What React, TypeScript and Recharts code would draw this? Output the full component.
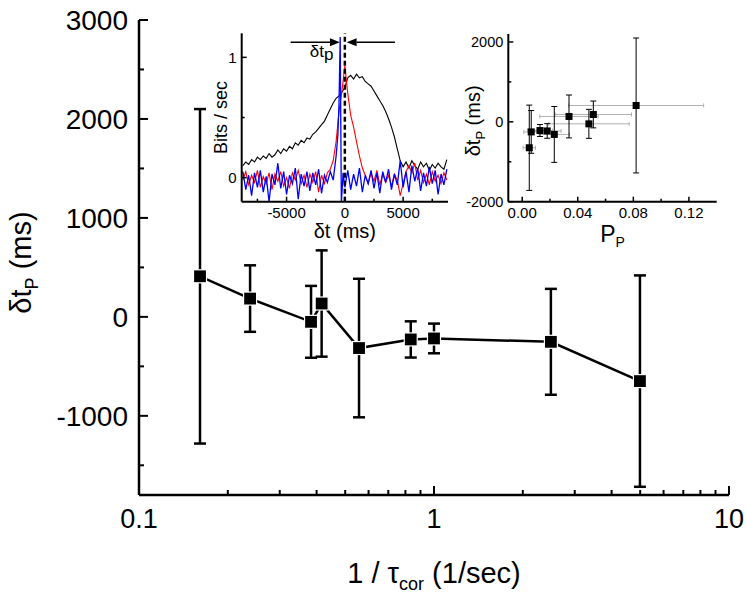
import React from 'react';
import {
  ComposedChart,
  LineChart,
  ScatterChart,
  Scatter,
  Line,
  XAxis,
  YAxis,
  ErrorBar,
  ReferenceLine,
  ReferenceDot,
  Label,
} from 'recharts';

const FONT = '"Liberation Sans", Arial, Helvetica, sans-serif';

// ---------------- main panel data ----------------
const invTau = [0.161, 0.238, 0.383, 0.416, 0.557, 0.834, 1.0, 2.49, 4.99];
const dtP = [410, 185, -50, 135, -315, -228, -218, -252, -649];
const dtPErr = [1690, 336, 363, 537, 700, 183, 150, 535, 1068];

const mainXTicks = [0.1, 0.2, 0.3, 0.4, 0.5, 0.6, 0.7, 0.8, 0.9, 1, 2, 3, 4, 5, 6, 7, 8, 9, 10];
const mainXMajor = [0.1, 1, 10];
const mainYTicks = [-1500, -1000, -500, 0, 500, 1000, 1500, 2000, 2500, 3000];
const mainYMajor = [-1000, 0, 1000, 2000, 3000];

// ---------------- right inset data ----------------
const pP = [0.082, 0.0512, 0.048, 0.0337, 0.0231, 0.018, 0.0128, 0.0065, 0.0051];
const pPErr = [0.0486, 0.0275, 0.029, 0.021, 0.011, 0.01, 0.009, 0.0054, 0.0045];
const insXTicks = [0, 0.02, 0.04, 0.06, 0.08, 0.1, 0.12];
const insXMajor = [0, 0.04, 0.08, 0.12];
const insYTicks = [-2000, -1000, 0, 1000, 2000];
const insYMajor = [-2000, 0, 2000];

// ---------------- left inset data ----------------
const tIns = [-8750, -8500, -8250, -8000, -7750, -7500, -7250, -7000, -6750, -6500, -6250, -6000, -5750, -5500, -5250, -5000, -4750, -4500, -4250, -4000, -3750, -3500, -3250, -3000, -2750, -2500, -2250, -2000, -1750, -1500, -1250, -1000, -750, -500, -250, 0, 250, 500, 750, 1000, 1250, 1500, 1750, 2000, 2250, 2500, 2750, 3000, 3250, 3500, 3750, 4000, 4250, 4500, 4750, 5000, 5250, 5500, 5750, 6000, 6250, 6500, 6750, 7000, 7250, 7500, 7750, 8000, 8250, 8500, 8750];
const blackV = [0.10, 0.13, 0.11, 0.15, 0.13, 0.17, 0.15, 0.18, 0.16, 0.20, 0.17, 0.19, 0.23, 0.20, 0.24, 0.22, 0.26, 0.24, 0.29, 0.27, 0.31, 0.29, 0.33, 0.32, 0.36, 0.38, 0.41, 0.44, 0.47, 0.52, 0.57, 0.62, 0.66, 0.68, 0.71, 0.75, 0.83, 0.85, 0.82, 0.86, 0.83, 0.84, 0.80, 0.78, 0.76, 0.72, 0.68, 0.64, 0.60, 0.55, 0.49, 0.42, 0.34, 0.24, 0.14, 0.09, 0.13, 0.08, 0.14, 0.10, 0.07, 0.13, 0.09, 0.12, 0.06, 0.11, 0.08, 0.12, 0.09, 0.07, 0.15];
const redV = [-0.02, 0.05, -0.06, 0.02, -0.04, 0.06, -0.08, 0.01, -0.05, 0.04, -0.10, 0.03, -0.03, 0.05, -0.07, 0.00, -0.09, 0.04, -0.02, 0.06, -0.05, 0.02, -0.08, 0.03, -0.04, 0.05, -0.12, 0.02, -0.05, 0.04, 0.07, 0.14, 0.30, 0.55, 0.72, 0.93, 0.70, 0.52, 0.42, 0.30, 0.18, 0.08, 0.02, -0.05, 0.04, -0.03, 0.06, -0.06, 0.03, -0.04, 0.02, -0.07, 0.03, -0.02, -0.15, -0.05, 0.05, 0.10, 0.04, 0.12, -0.02, 0.06, -0.04, 0.03, -0.06, 0.05, -0.03, 0.02, -0.05, 0.04, -0.02];
const blueT = [-8750, -8500, -8250, -8000, -7750, -7500, -7250, -7000, -6750, -6500, -6250, -6000, -5750, -5500, -5250, -5000, -4750, -4500, -4250, -4000, -3750, -3500, -3250, -3000, -2750, -2500, -2250, -2000, -1750, -1500, -1250, -1000, -750, -600, -500, -400, -300, -150, 0, 250, 500, 750, 1000, 1250, 1500, 1750, 2000, 2250, 2500, 2750, 3000, 3250, 3500, 3750, 4000, 4250, 4500, 4750, 5000, 5250, 5500, 5750, 6000, 6250, 6500, 6750, 7000, 7250, 7500, 7750, 8000, 8250, 8500, 8750];
const blueV = [0.05, -0.10, 0.02, -0.15, 0.04, -0.08, 0.06, -0.12, 0.01, -0.20, 0.03, -0.06, 0.12, -0.09, 0.05, -0.14, 0.02, -0.05, 0.08, -0.18, 0.03, -0.07, 0.05, -0.11, 0.04, -0.06, 0.07, -0.13, 0.02, -0.04, 0.05, -0.02, 0.18, 0.35, 0.62, 1.17, -0.21, 0.04, -0.08, 0.06, -0.10, 0.03, -0.07, 0.08, -0.12, 0.02, -0.05, 0.06, -0.09, 0.04, -0.13, 0.05, -0.04, 0.07, -0.10, 0.03, -0.06, 0.14, -0.08, 0.05, -0.12, 0.10, -0.03, 0.08, -0.11, 0.04, -0.07, 0.09, -0.05, 0.06, -0.14, 0.03, -0.06, 0.07];
const ins1XTicks = [-7500, -5000, -2500, 0, 2500, 5000, 7500];
const ins1XMajor = [-5000, 0, 5000];
const ins1YTicks = [0, 0.5, 1];
const ins1YMajor = [0, 1];
// annotation: arrows [from, tip] at height arrowLevel, label position
const arrowLevel = 1.125;
const arrowLeft = [-4650, -420];
const arrowRight = [4300, 150];
const dtpLabelPos = [-2000, 1.0];

const mainData = invTau.map((x, i) => ({ x, y: dtP[i], err: dtPErr[i] }));
const insData = pP.map((x, i) => ({ x, y: dtP[i], err: dtPErr[i], xerr: pPErr[i] }));
const blackData = tIns.map((t, i) => ({ t, v: blackV[i] }));
const redData = tIns.map((t, i) => ({ t, v: redV[i] }));
const blueData = blueT.map((t, i) => ({ t, v: blueV[i] }));

type TickOpts = {
  side: 'bottom' | 'top' | 'left' | 'right';
  majors: number[];
  major: number;
  minor: number;
  sw: number;
  label?: boolean;
  fontSize?: number;
  offset?: number;
  fmt?: (v: number) => string;
};

function makeTick(o: TickOpts) {
  return (props: any) => {
    const { x, y, payload } = props;
    const v = payload.value;
    const isMajor = o.majors.some((m) => Math.abs(m - v) < 1e-9);
    const len = isMajor ? o.major : o.minor;
    let x2 = x;
    let y2 = y;
    if (o.side === 'bottom') y2 = y - len;
    if (o.side === 'top') y2 = y + len;
    if (o.side === 'left') x2 = x + len;
    if (o.side === 'right') x2 = x - len;
    let txt: any = null;
    if (o.label && isMajor) {
      const s = o.fmt ? o.fmt(v) : String(v);
      if (o.side === 'bottom') {
        txt = (
          <text x={x} y={y + (o.offset || 0)} textAnchor="middle" fontSize={o.fontSize} fontFamily={FONT} fill="#000">
            {s}
          </text>
        );
      } else if (o.side === 'left') {
        txt = (
          <text x={x - (o.offset || 0)} y={y} dy="0.35em" textAnchor="end" fontSize={o.fontSize} fontFamily={FONT} fill="#000">
            {s}
          </text>
        );
      }
    }
    return (
      <g>
        <line x1={x} y1={y} x2={x2} y2={y2} stroke="#000" strokeWidth={o.sw} />
        {txt}
      </g>
    );
  };
}

const mainAxisLine = { stroke: '#000', strokeWidth: 2.5 };
const insAxisLine = { stroke: '#000', strokeWidth: 2 };

const MainXTitle = (p: any) => {
  const vb = p.viewBox;
  return (
    <text x={vb.x + vb.width / 2} y={vb.y + 88} textAnchor="middle" fontSize={29} fontFamily={FONT} fill="#000">
      1 / τ<tspan dy={7} fontSize={18}>cor</tspan>
      <tspan dy={-7}> (1/sec)</tspan>
    </text>
  );
};

const MainYTitle = (p: any) => {
  const vb = p.viewBox;
  const cx = vb.x + 31;
  const cy = vb.y + vb.height / 2 + 5;
  return (
    <text x={cx} y={cy} transform={`rotate(-90, ${cx}, ${cy})`} textAnchor="middle" fontSize={29} fontFamily={FONT} fill="#000">
      δt<tspan dy={7} fontSize={18}>P</tspan>
      <tspan dy={-7}> (ms)</tspan>
    </text>
  );
};

const Ins1XTitle = (p: any) => {
  const vb = p.viewBox;
  return (
    <text x={vb.x + vb.width / 2} y={vb.y + 36} textAnchor="middle" fontSize={20} fontFamily={FONT} fill="#000">
      δt (ms)
    </text>
  );
};

const Ins1YTitle = (p: any) => {
  const vb = p.viewBox;
  const cx = vb.x + 47;
  const cy = vb.y + vb.height / 2;
  return (
    <text x={cx} y={cy} transform={`rotate(-90, ${cx}, ${cy})`} textAnchor="middle" fontSize={18} fontFamily={FONT} fill="#000">
      Bits / sec
    </text>
  );
};

const Ins2XTitle = (p: any) => {
  const vb = p.viewBox;
  return (
    <text x={vb.x + vb.width / 2} y={vb.y + 40} textAnchor="middle" fontSize={23} fontFamily={FONT} fill="#000">
      P<tspan dy={5} fontSize={14}>P</tspan>
    </text>
  );
};

const Ins2YTitle = (p: any) => {
  const vb = p.viewBox;
  const cx = vb.x + 25;
  const cy = vb.y + vb.height / 2 + 3;
  return (
    <text x={cx} y={cy} transform={`rotate(-90, ${cx}, ${cy})`} textAnchor="middle" fontSize={20} fontFamily={FONT} fill="#000">
      δt<tspan dy={5} fontSize={13}>P</tspan>
      <tspan dy={-5}> (ms)</tspan>
    </text>
  );
};

const ArrowShape = (p: any) => {
  const { x1, y1, x2, y2 } = p;
  const dx = x2 - x1;
  const dy = y2 - y1;
  const L = Math.sqrt(dx * dx + dy * dy) || 1;
  const ux = dx / L;
  const uy = dy / L;
  const hl = 10;
  const hw = 4;
  const bx = x2 - ux * hl;
  const by = y2 - uy * hl;
  const pts = `${x2},${y2} ${bx - uy * hw},${by + ux * hw} ${bx + uy * hw},${by - ux * hw}`;
  return (
    <g>
      <line x1={x1} y1={y1} x2={bx} y2={by} stroke="#000" strokeWidth={1.6} />
      <polygon points={pts} fill="#000" />
    </g>
  );
};

const DtpLabel = (p: any) => (
  <text x={p.cx} y={p.cy} textAnchor="middle" fontSize={17} fontFamily={FONT} fill="#000">
    δt<tspan dy={3}>p</tspan>
  </text>
);

const MainMarker = (p: any) => (
  <rect x={p.cx - 6.5} y={p.cy - 6.5} width={13} height={13} fill="#000" stroke="#fff" strokeWidth={1.2} />
);
const InsMarker = (p: any) => (
  <rect x={p.cx - 3.5} y={p.cy - 3.5} width={7} height={7} fill="#000" />
);

export default function App() {
  return (
    <div style={{ position: 'absolute', left: 0, top: 0, width: 747, height: 598, background: '#fff', fontFamily: FONT }}>
      <ComposedChart width={747} height={598} data={mainData} margin={{ top: 20, right: 18, bottom: 0, left: 0 }}>
        <XAxis
          xAxisId="b"
          dataKey="x"
          type="number"
          scale="log"
          domain={[0.1, 10]}
          allowDataOverflow
          ticks={mainXTicks}
          interval={0}
          height={103}
          tickSize={0}
          tickMargin={0}
          tickLine={false}
          axisLine={mainAxisLine}
          tick={makeTick({ side: 'bottom', majors: mainXMajor, major: 9, minor: 5, sw: 2, label: true, fontSize: 27, offset: 33 })}
        >
          <Label content={MainXTitle} />
        </XAxis>
        <XAxis
          xAxisId="t"
          orientation="top"
          type="number"
          scale="log"
          domain={[0.1, 10]}
          allowDataOverflow
          ticks={mainXTicks}
          interval={0}
          height={0}
          tickSize={0}
          tickMargin={0}
          tickLine={false}
          axisLine={mainAxisLine}
          tick={makeTick({ side: 'top', majors: mainXMajor, major: 9, minor: 5, sw: 2 })}
        />
        <YAxis
          yAxisId="l"
          dataKey="y"
          type="number"
          domain={[-1800, 3000]}
          allowDataOverflow
          ticks={mainYTicks}
          interval={0}
          width={139}
          tickSize={0}
          tickMargin={0}
          tickLine={false}
          axisLine={mainAxisLine}
          tick={makeTick({ side: 'left', majors: mainYMajor, major: 9, minor: 5, sw: 2, label: true, fontSize: 28, offset: 11 })}
        >
          <Label content={MainYTitle} />
        </YAxis>
        <YAxis
          yAxisId="r"
          orientation="right"
          type="number"
          domain={[-1800, 3000]}
          allowDataOverflow
          ticks={mainYTicks}
          interval={0}
          width={0}
          tickSize={0}
          tickMargin={0}
          tickLine={false}
          axisLine={mainAxisLine}
          tick={makeTick({ side: 'right', majors: mainYMajor, major: 9, minor: 5, sw: 2 })}
        />
        <Scatter
          xAxisId="b"
          yAxisId="l"
          data={mainData}
          dataKey="y"
          line={{ stroke: '#000', strokeWidth: 2.5 }}
          shape={MainMarker}
          isAnimationActive={false}
        >
          <ErrorBar dataKey="err" direction="y" width={6} stroke="#000" strokeWidth={2.5} />
        </Scatter>
      </ComposedChart>

      {/* left inset */}
      <div style={{ position: 'absolute', left: 180, top: 25, width: 280, height: 225 }}>
        <LineChart width={280} height={225} margin={{ top: 8.3, right: 12, bottom: 0, left: 0 }}>
          <XAxis
            xAxisId="b"
            dataKey="t"
            type="number"
            domain={[-8850, 8850]}
            allowDataOverflow
            ticks={ins1XTicks}
            interval={0}
            height={48.3}
            tickSize={0}
            tickMargin={0}
            tickLine={false}
            axisLine={insAxisLine}
            tick={makeTick({ side: 'bottom', majors: ins1XMajor, major: 5, minor: 3, sw: 1.5, label: true, fontSize: 15, offset: 16 })}
          >
            <Label content={Ins1XTitle} />
          </XAxis>
          <XAxis
            xAxisId="t"
            orientation="top"
            type="number"
            domain={[-8850, 8850]}
            allowDataOverflow
            ticks={ins1XTicks}
            interval={0}
            height={0}
            tickSize={0}
            tickMargin={0}
            tickLine={false}
            axisLine={insAxisLine}
            tick={makeTick({ side: 'top', majors: ins1XMajor, major: 5, minor: 3, sw: 1.5 })}
          />
          <YAxis
            yAxisId="l"
            type="number"
            domain={[-0.2, 1.2]}
            allowDataOverflow
            ticks={ins1YTicks}
            interval={0}
            width={61.7}
            tickSize={0}
            tickMargin={0}
            tickLine={false}
            axisLine={insAxisLine}
            tick={makeTick({ side: 'left', majors: ins1YMajor, major: 5, minor: 3, sw: 1.5, label: true, fontSize: 15, offset: 5 })}
          >
            <Label content={Ins1YTitle} />
          </YAxis>
          <YAxis
            yAxisId="r"
            orientation="right"
            type="number"
            domain={[-0.2, 1.2]}
            allowDataOverflow
            ticks={ins1YTicks}
            interval={0}
            width={0}
            tickSize={0}
            tickMargin={0}
            tickLine={false}
            axisLine={insAxisLine}
            tick={makeTick({ side: 'right', majors: ins1YMajor, major: 5, minor: 3, sw: 1.5 })}
          />
          <Line xAxisId="b" yAxisId="l" data={blackData} dataKey="v" type="linear" stroke="#000" strokeWidth={1.1} dot={false} isAnimationActive={false} />
          <Line xAxisId="b" yAxisId="l" data={redData} dataKey="v" type="linear" stroke="#ff0000" strokeWidth={1.1} dot={false} isAnimationActive={false} />
          <Line xAxisId="b" yAxisId="l" data={blueData} dataKey="v" type="linear" stroke="#0000ff" strokeWidth={1.3} dot={false} isAnimationActive={false} />
          <ReferenceLine xAxisId="b" yAxisId="l" x={0} stroke="#000" strokeWidth={2.5} strokeDasharray="5 3" />
          <ReferenceLine
            xAxisId="b"
            yAxisId="l"
            segment={[{ x: arrowLeft[0], y: arrowLevel }, { x: arrowLeft[1], y: arrowLevel }]}
            shape={ArrowShape}
          />
          <ReferenceLine
            xAxisId="b"
            yAxisId="l"
            segment={[{ x: arrowRight[0], y: arrowLevel }, { x: arrowRight[1], y: arrowLevel }]}
            shape={ArrowShape}
          />
          <ReferenceDot xAxisId="b" yAxisId="l" x={dtpLabelPos[0]} y={dtpLabelPos[1]} r={0} shape={DtpLabel} />
        </LineChart>
      </div>

      {/* right inset */}
      <div style={{ position: 'absolute', left: 455, top: 25, width: 292, height: 225 }}>
        <ScatterChart width={292} height={225} margin={{ top: 9, right: 30.3, bottom: 0, left: 0 }}>
          <XAxis
            xAxisId="b"
            dataKey="x"
            type="number"
            domain={[-0.01, 0.14]}
            allowDataOverflow
            ticks={insXTicks}
            interval={0}
            height={48.3}
            tickSize={0}
            tickMargin={0}
            tickLine={false}
            axisLine={insAxisLine}
            tick={makeTick({ side: 'bottom', majors: insXMajor, major: 5, minor: 3, sw: 1.5, label: true, fontSize: 15, offset: 16, fmt: (v) => v.toFixed(2) })}
          >
            <Label content={Ins2XTitle} />
          </XAxis>
          <XAxis
            xAxisId="t"
            orientation="top"
            type="number"
            domain={[-0.01, 0.14]}
            allowDataOverflow
            ticks={insXTicks}
            interval={0}
            height={0}
            tickSize={0}
            tickMargin={0}
            tickLine={false}
            axisLine={insAxisLine}
            tick={makeTick({ side: 'top', majors: insXMajor, major: 5, minor: 3, sw: 1.5 })}
          />
          <YAxis
            yAxisId="l"
            dataKey="y"
            type="number"
            domain={[-2000, 2200]}
            allowDataOverflow
            ticks={insYTicks}
            interval={0}
            width={53.3}
            tickSize={0}
            tickMargin={0}
            tickLine={false}
            axisLine={insAxisLine}
            tick={makeTick({ side: 'left', majors: insYMajor, major: 5, minor: 3, sw: 1.5, label: true, fontSize: 14.5, offset: 5 })}
          >
            <Label content={Ins2YTitle} />
          </YAxis>
          <YAxis
            yAxisId="r"
            orientation="right"
            type="number"
            domain={[-2000, 2200]}
            allowDataOverflow
            ticks={insYTicks}
            interval={0}
            width={0}
            tickSize={0}
            tickMargin={0}
            tickLine={false}
            axisLine={insAxisLine}
            tick={makeTick({ side: 'right', majors: insYMajor, major: 5, minor: 3, sw: 1.5 })}
          />
          <Scatter xAxisId="b" yAxisId="l" data={insData} dataKey="y" shape={InsMarker} isAnimationActive={false}>
            <ErrorBar dataKey="xerr" direction="x" width={2} stroke="#b0b0b0" strokeWidth={1} />
            <ErrorBar dataKey="err" direction="y" width={3} stroke="#000" strokeWidth={1} />
          </Scatter>
        </ScatterChart>
      </div>
    </div>
  );
}
